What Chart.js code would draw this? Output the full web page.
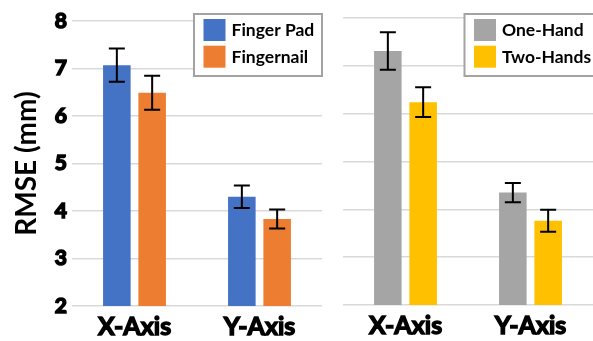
<!DOCTYPE html>
<html>
<head>
<meta charset="utf-8">
<script src="https://cdn.jsdelivr.net/npm/chart.js@4.4.0/dist/chart.umd.min.js"></script>
<style>
  html, body { margin: 0; padding: 0; background: #ffffff; }
  #wrap { position: relative; width: 593px; height: 341px; overflow: hidden; }
  #left { position: absolute; left: 0; top: 0; }
  #right { position: absolute; left: 322px; top: 0; }
</style>
</head>
<body>
<div id="wrap">
  <canvas id="left" width="326" height="341"></canvas>
  <canvas id="right" width="271" height="341"></canvas>
</div>
<script>
// Axis categories and tick values
const categories = ['X-Axis', 'Y-Axis'];
const yTicks = [2, 3, 4, 5, 6, 7, 8];

// Contact surface comparison (RMSE in mm, with standard error)
const fingerPad = [7.07, 4.30];
const fingerPadErr = [0.35, 0.235];
const fingernail = [6.49, 3.83];
const fingernailErr = [0.36, 0.20];

// Hand usage comparison
const oneHand = [7.31, 4.35];
const oneHandErr = [0.39, 0.20];
const twoHands = [6.24, 3.76];
const twoHandsErr = [0.31, 0.23];

const FONT = 'Lato, "Open Sans", sans-serif';

// Draws black error bars (whisker with caps) over every bar
const errorBars = {
  id: 'errorBars',
  afterDatasetsDraw(chart) {
    const ctx = chart.ctx;
    const y = chart.scales.y;
    ctx.save();
    ctx.strokeStyle = '#000000';
    ctx.lineWidth = 2;
    chart.data.datasets.forEach((ds, di) => {
      const meta = chart.getDatasetMeta(di);
      meta.data.forEach((bar, i) => {
        const v = ds.data[i];
        const e = ds.errors[i];
        const x = bar.x;
        const yTop = y.getPixelForValue(v + e);
        const yBot = y.getPixelForValue(v - e);
        const cap = 8;
        ctx.beginPath();
        ctx.moveTo(x, yTop); ctx.lineTo(x, yBot);
        ctx.moveTo(x - cap, yTop); ctx.lineTo(x + cap, yTop);
        ctx.moveTo(x - cap, yBot); ctx.lineTo(x + cap, yBot);
        ctx.stroke();
      });
    });
    ctx.restore();
  }
};

// Boxed legend placed inside the plot area's top-right corner
const boxLegend = {
  id: 'boxLegend',
  afterDraw(chart, args, opts) {
    const ctx = chart.ctx;
    const bx = opts.x, by = opts.y, bw = opts.w, bh = opts.h;
    ctx.save();
    ctx.fillStyle = '#ffffff';
    ctx.fillRect(bx, by, bw, bh);
    ctx.strokeStyle = '#a3a3a3';
    ctx.lineWidth = 2;
    ctx.strokeRect(bx, by, bw, bh);
    ctx.font = 'bold 17.5px ' + FONT;
    ctx.textBaseline = 'middle';
    ctx.textAlign = 'left';
    chart.data.datasets.forEach((ds, i) => {
      const sy = by + 5 + i * 26.7;
      ctx.fillStyle = ds.backgroundColor;
      ctx.fillRect(bx + 9.5, sy, 22, 22);
      ctx.fillStyle = '#000000';
      ctx.fillText(ds.label, bx + 37.5, sy + 11.5);
    });
    ctx.restore();
  }
};

function makeOptions(cfg) {
  return {
    responsive: false,
    animation: false,
    events: [],
    layout: { padding: cfg.padding },
    plugins: {
      legend: { display: false },
      tooltip: { enabled: false },
      boxLegend: cfg.legend
    },
    datasets: {
      bar: { categoryPercentage: 0.565, barPercentage: 0.78 }
    },
    scales: {
      x: {
        grid: { display: false },
        border: { display: false },
        ticks: {
          color: '#000000',
          textStrokeColor: '#000000',
          textStrokeWidth: 1.4,
          padding: -2,
          font: { family: FONT, size: 25, weight: 'bold' }
        },
        afterFit(scale) { scale.height = cfg.xHeight; }
      },
      y: {
        type: 'linear',
        min: 2,
        max: 8,
        afterBuildTicks(scale) { scale.ticks = yTicks.map(v => ({ value: v })); },
        grid: { color: '#d9d9d9', lineWidth: 1.5, drawTicks: false },
        border: { display: false },
        ticks: {
          display: cfg.showTicks,
          color: '#000000',
          textStrokeColor: '#000000',
          textStrokeWidth: 1.6,
          padding: 5,
          font: { family: FONT, size: 21, weight: 'bold' }
        },
        title: {
          display: cfg.showTicks,
          text: 'RMSE (mm)',
          color: '#000000',
          padding: { top: 10, bottom: 0 },
          font: { family: FONT, size: 28, weight: 'bold' }
        },
        afterFit(scale) { scale.width = cfg.yWidth; }
      }
    }
  };
}

new Chart(document.getElementById('left'), {
  type: 'bar',
  data: {
    labels: categories,
    datasets: [
      { label: 'Finger Pad', data: fingerPad, errors: fingerPadErr, backgroundColor: '#4472c4' },
      { label: 'Fingernail', data: fingernail, errors: fingernailErr, backgroundColor: '#ed7d31' }
    ]
  },
  options: makeOptions({
    padding: { left: 0, right: 4, top: 21, bottom: 0 },
    xHeight: 35,
    yWidth: 72,
    showTicks: true,
    legend: { x: 194, y: 14, w: 128, h: 62 }
  }),
  plugins: [errorBars, boxLegend]
});

new Chart(document.getElementById('right'), {
  type: 'bar',
  data: {
    labels: categories,
    datasets: [
      { label: 'One-Hand', data: oneHand, errors: oneHandErr, backgroundColor: '#a5a5a5' },
      { label: 'Two-Hands', data: twoHands, errors: twoHandsErr, backgroundColor: '#ffc000' }
    ]
  },
  options: makeOptions({
    padding: { left: 0, right: 0, top: 18, bottom: 0 },
    xHeight: 36,
    yWidth: 21,
    showTicks: false,
    legend: { x: 142.5, y: 14, w: 130, h: 62 }
  }),
  plugins: [errorBars, boxLegend]
});
</script>
</body>
</html>
